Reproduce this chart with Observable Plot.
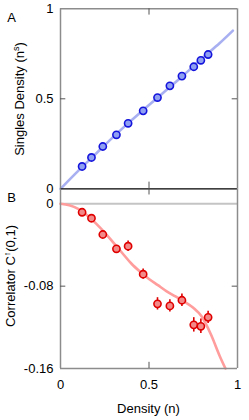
<!DOCTYPE html>
<html>
<head>
<meta charset="utf-8">
<script src="https://cdn.jsdelivr.net/npm/d3@7"></script>
<script src="https://cdn.jsdelivr.net/npm/@observablehq/plot@0.6"></script>
<style>
  html, body { margin: 0; padding: 0; background: #fff; }
  #chart { position: relative; width: 249px; height: 420px; font-family: "Liberation Sans", Arial, sans-serif; }
  #chart svg { position: absolute; left: 0; overflow: visible; background: transparent; }
</style>
</head>
<body>
<div id="chart"></div>
<script>
// Measured data (density n)
const density = [0.122, 0.175, 0.239, 0.316, 0.382, 0.467, 0.548, 0.618, 0.686, 0.753, 0.793, 0.834];
// Panel A: singles density n^s
const singles = [0.124, 0.174, 0.235, 0.300, 0.364, 0.433, 0.507, 0.572, 0.626, 0.678, 0.714, 0.746];
// Panel B: correlator C(0,1)
const correlator = [-0.0082, -0.0140, -0.0298, -0.0437, -0.0412, -0.0684, -0.0972, -0.0992, -0.0937, -0.1176, -0.1190, -0.1103];
const correlatorErr = [0.002, 0.002, 0.002, 0.002, 0.005, 0.005, 0.006, 0.006, 0.006, 0.007, 0.007, 0.006];

// Theory curves
const theoryA_n = [0, 0.1, 0.2, 0.3, 0.4, 0.5, 0.6, 0.7, 0.8, 0.9, 0.974];
const theoryA_ns = [0, 0.1, 0.195, 0.29, 0.38, 0.465, 0.55, 0.635, 0.725, 0.81, 0.879];
const theoryB_n = [0, 0.05, 0.1, 0.15, 0.2, 0.25, 0.3, 0.35, 0.4, 0.45, 0.5, 0.55, 0.6, 0.65, 0.7, 0.75, 0.8, 0.85, 0.9, 0.932];
const theoryB_c = [0, -0.0015, -0.005, -0.011, -0.019, -0.028, -0.038, -0.048, -0.058, -0.066, -0.073, -0.079, -0.085, -0.09, -0.095, -0.101, -0.11, -0.127, -0.148, -0.16];

const xTicks = [0, 0.5, 1];
const yTicksA = [0, 0.5, 1];
const yTicksB = [0, -0.08, -0.16];

const ptsA = density.map((n, i) => ({n, v: singles[i]}));
const ptsB = density.map((n, i) => ({n, v: correlator[i], lo: correlator[i] - correlatorErr[i], hi: correlator[i] + correlatorErr[i]}));
const lineA = theoryA_n.map((n, i) => ({n, v: theoryA_ns[i]}));
const lineB = theoryB_n.map((n, i) => ({n, v: theoryB_c[i]}));

const FONT = "Liberation Sans, Arial, sans-serif";
const frameGray = "#8c8c8c";
const container = document.getElementById("chart");

// ---------- Panel A ----------
const plotA = Plot.plot({
  width: 249, height: 190,
  marginLeft: 60, marginRight: 12, marginTop: 8.3, marginBottom: 1.7,
  style: {fontFamily: FONT, fontSize: "13px", color: "#000", background: "transparent"},
  x: {domain: [0, 1]},
  y: {domain: [0, 1]},
  marks: [
    Plot.line(lineA, {x: "n", y: "v", stroke: "#a9b0f2", strokeWidth: 2.6, curve: "monotone-x"}),
    Plot.ruleX([0, 1], {stroke: frameGray, strokeWidth: 1.5}),
    Plot.ruleY([1], {stroke: frameGray, strokeWidth: 1.5}),
    Plot.ruleY([0], {stroke: "#000", strokeWidth: 1.3}),
    Plot.ruleY([0.5], {x1: 0, x2: 0.03, stroke: "#555", strokeWidth: 1}),
    Plot.ruleY([0.5], {x1: 0.97, x2: 1, stroke: "#555", strokeWidth: 1}),
    Plot.ruleX([0.5], {y1: 1, y2: 0.965, stroke: "#555", strokeWidth: 1}),
    Plot.ruleX([0.5], {y1: 0, y2: 0.037, stroke: "#555", strokeWidth: 1}),
    Plot.dot(ptsA, {x: "n", y: "v", r: 3.6, fill: "#8f9ff2", stroke: "#1414dc", strokeWidth: 1.6}),
    Plot.axisX({ticks: [], label: null}),
    Plot.axisY({ticks: yTicksA, tickSize: 0, tickPadding: 7, label: null, tickFormat: d => String(d), fontSize: 13})
  ]
});
plotA.style.top = "0px";
container.appendChild(plotA);

// ---------- Panel B ----------
const plotB = Plot.plot({
  width: 249, height: 240,
  marginLeft: 60, marginRight: 12, marginTop: 8.3, marginBottom: 52,
  style: {fontFamily: FONT, fontSize: "13px", color: "#000", background: "transparent"},
  x: {domain: [0, 1]},
  y: {domain: [-0.16, 0.0146]},
  marks: [
    Plot.ruleY([0], {stroke: "#c4c4c4", strokeWidth: 2}),
    Plot.line(lineB, {x: "n", y: "v", stroke: "#ff9c9c", strokeWidth: 2.6, curve: "monotone-x"}),
    Plot.ruleX([0, 1], {stroke: frameGray, strokeWidth: 1.5}),
    Plot.ruleY([-0.16], {stroke: frameGray, strokeWidth: 1.5}),
    Plot.ruleY([-0.08], {x1: 0, x2: 0.03, stroke: "#555", strokeWidth: 1}),
    Plot.ruleY([-0.08], {x1: 0.97, x2: 1, stroke: "#555", strokeWidth: 1}),
    Plot.ruleX([0.5], {y1: -0.16, y2: -0.154, stroke: "#555", strokeWidth: 1}),
    Plot.ruleX([0.5], {y1: 0.0146, y2: 0.0086, stroke: "#555", strokeWidth: 1}),
    Plot.ruleX(ptsB, {x: "n", y1: "lo", y2: "hi", stroke: "#dd0000", strokeWidth: 1.6}),
    Plot.dot(ptsB, {x: "n", y: "v", r: 3.6, fill: "#f28a8a", stroke: "#e00000", strokeWidth: 1.6}),
    Plot.axisX({ticks: xTicks, tickSize: 0, tickPadding: 11, label: null, tickFormat: d => String(d), fontSize: 13}),
    Plot.axisY({ticks: yTicksB, tickSize: 0, tickPadding: 7, label: null, tickFormat: d => String(d), fontSize: 13})
  ]
});
plotB.style.top = "180px";
container.appendChild(plotB);

// ---------- Text labels ----------
const sA = d3.select(plotA);
sA.append("text").attr("x", 11.5).attr("y", 22).attr("text-anchor", "middle")
  .attr("font-family", FONT).attr("font-size", 13).text("A");
const labA = sA.append("text")
  .attr("transform", "translate(23.5,99) rotate(-90)")
  .attr("text-anchor", "middle").attr("font-family", FONT).attr("font-size", 13);
labA.append("tspan").text("Singles Density (n");
labA.append("tspan").attr("font-size", 9).attr("dy", -5).text("s");
labA.append("tspan").attr("dy", 5).text(")");

const sB = d3.select(plotB);
sB.append("text").attr("x", 11.5).attr("y", 201.5 - 180).attr("text-anchor", "middle")
  .attr("font-family", FONT).attr("font-size", 13).text("B");
const labB = sB.append("text")
  .attr("transform", `translate(15,${276 - 180}) rotate(-90)`)
  .attr("text-anchor", "middle").attr("font-family", FONT).attr("font-size", 13);
labB.append("tspan").text("Correlator C");
labB.append("tspan").attr("font-size", 9).attr("dy", -5).text("\u2191");
labB.append("tspan").attr("dy", 5).text("(0,1)");
sB.append("text").attr("x", 148.5).attr("y", 412.5 - 180).attr("text-anchor", "middle")
  .attr("font-family", FONT).attr("font-size", 13).text("Density (n)");
</script>
</body>
</html>
